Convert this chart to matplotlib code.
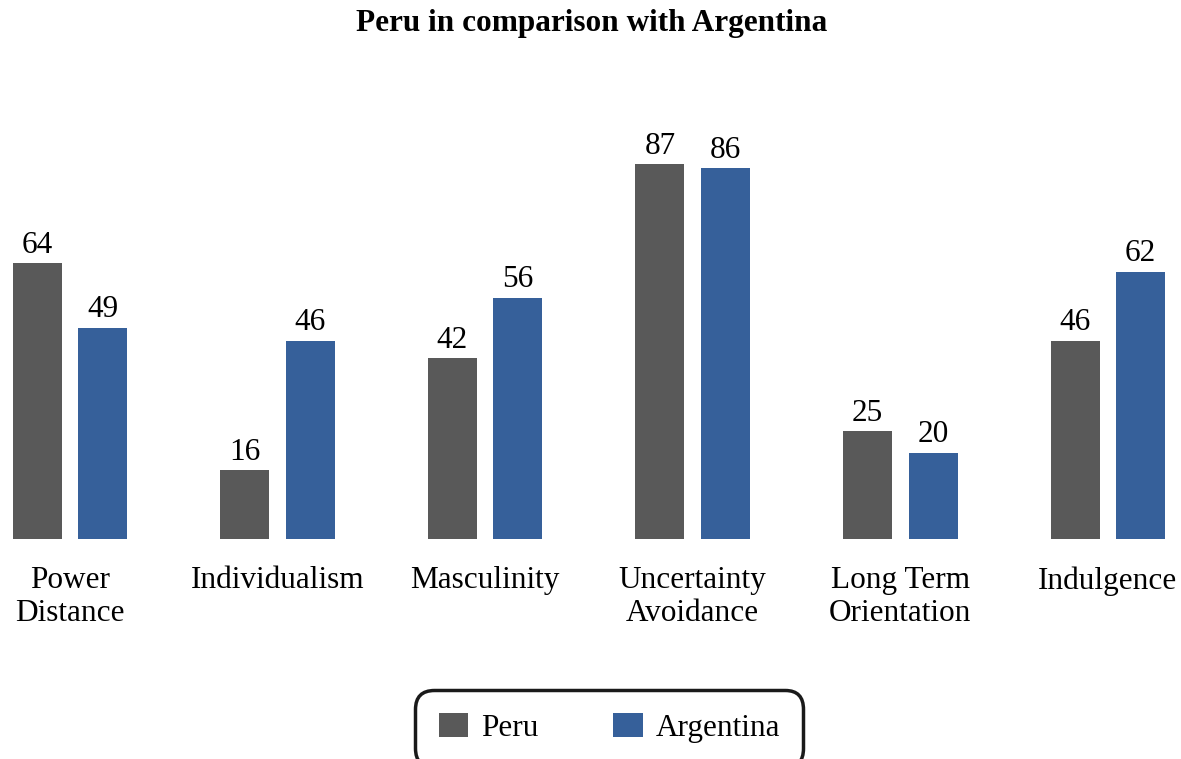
import matplotlib
matplotlib.use("Agg")
import matplotlib.pyplot as plt
import numpy as np

categories = ["Power\nDistance", "Individualism", "Masculinity",
              "Uncertainty\nAvoidance", "Long Term\nOrientation", "Indulgence"]
peru = [64, 16, 42, 87, 25, 46]
argentina = [49, 46, 56, 86, 20, 62]
series_names = ["Peru", "Argentina"]
colors = ["#595959", "#36609a"]
title = "Peru in comparison with Argentina"

plt.rcParams['font.family'] = ['Liberation Serif', 'DejaVu Serif']

fig = plt.figure(figsize=(11.81, 7.59), dpi=100)
ax = fig.add_axes([0, 1 - 539 / 759, 1, (539 - 100) / 759])

x = np.arange(len(categories))
w = 0.236
off = 0.158
b1 = ax.bar(x - off, peru, w, color=colors[0], label=series_names[0])
b2 = ax.bar(x + off, argentina, w, color=colors[1], label=series_names[1])

for bars, vals in ((b1, peru), (b2, argentina)):
    for r, v in zip(bars, vals):
        ax.annotate(str(v), (r.get_x() + r.get_width() / 2, v),
                    xytext=(0, 7.5), textcoords="offset points",
                    ha="center", va="baseline", fontsize=22.5)

ax.set_xlim(-0.337, 5.352)
ax.set_ylim(0, (539 - 100) / 4.31)
ax.set_xticks(x)
ax.set_xticklabels(categories, fontsize=22.5, linespacing=1.17)
ax.tick_params(axis="x", length=0, pad=19.5)
ax.set_yticks([])
for s in ax.spines.values():
    s.set_visible(False)

fig.text(0.501, 1 - 23 / 759, title, ha="center", va="center",
         fontsize=22.5, fontweight="bold")

leg = fig.legend(handles=[b1, b2], labels=series_names, loc="upper center",
                 bbox_to_anchor=(0.516, 1 - 690 / 759), ncol=2, fontsize=22.5,
                 frameon=True, fancybox=True, framealpha=1.0,
                 handlelength=0.95, handleheight=0.8,
                 handletextpad=0.4, columnspacing=2.4, borderpad=0.75,
                 borderaxespad=0)
fr = leg.get_frame()
fr.set_edgecolor("#1a1a1a")
fr.set_linewidth(2.5)
fr.set_boxstyle("round", pad=0, rounding_size=0.6)

fig.savefig("out.png", dpi=100)
